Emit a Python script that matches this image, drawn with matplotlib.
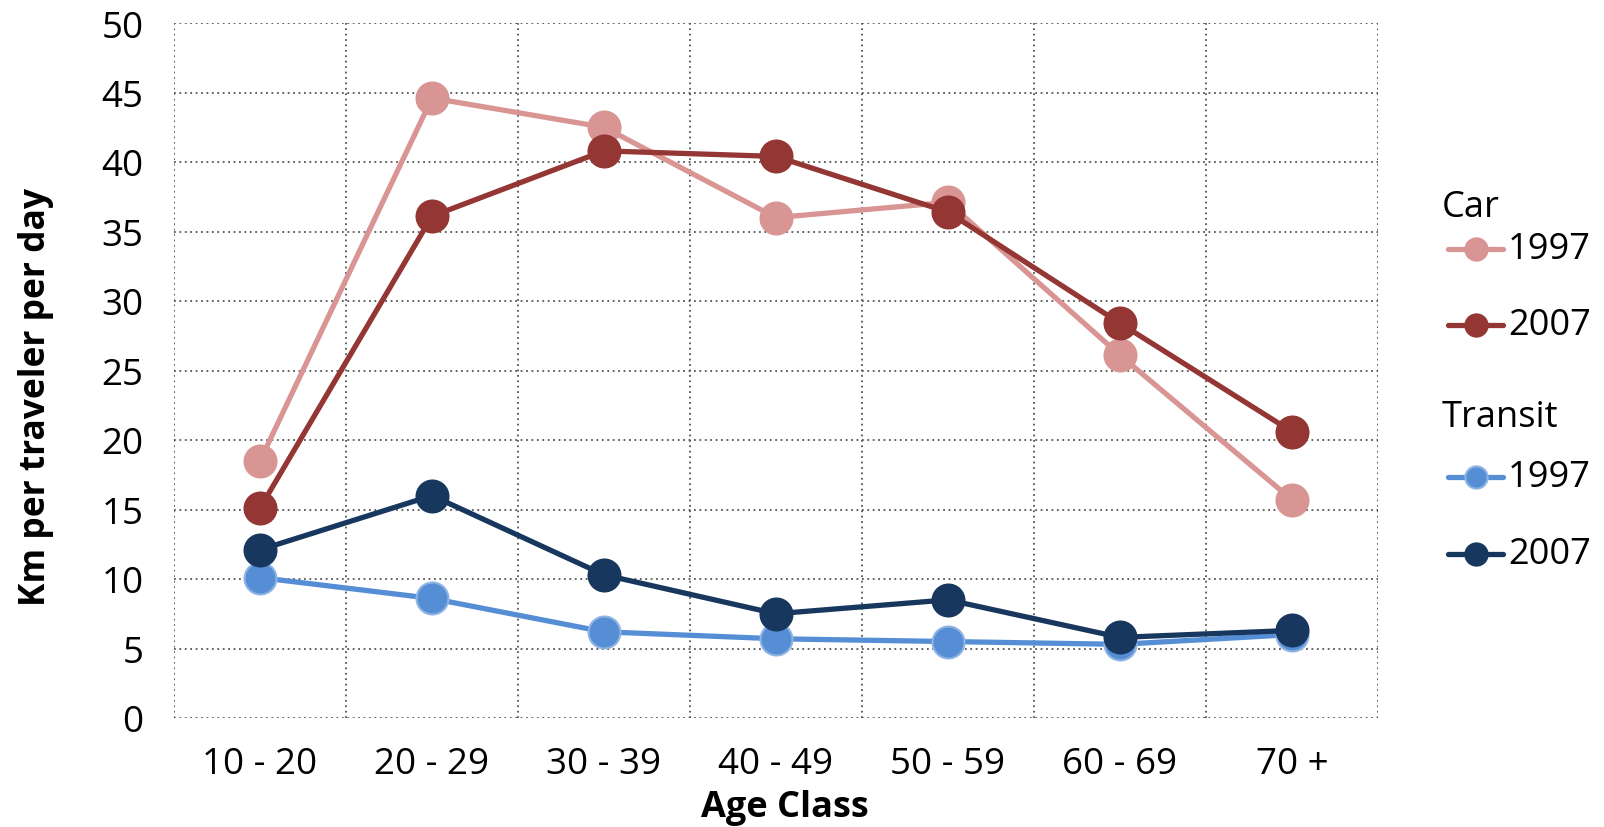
import matplotlib
matplotlib.use("Agg")
import matplotlib.pyplot as plt
from matplotlib.lines import Line2D

plt.rcParams['font.family'] = ['Open Sans', 'DejaVu Sans']

# km per traveler per day by age class
age_classes = ['10 - 20', '20 - 29', '30 - 39', '40 - 49', '50 - 59', '60 - 69', '70 +']
car_1997 = [18.5, 44.6, 42.5, 36.0, 37.1, 26.1, 15.7]
car_2007 = [15.1, 36.1, 40.8, 40.4, 36.4, 28.4, 20.6]
transit_1997 = [10.1, 8.6, 6.2, 5.7, 5.5, 5.3, 6.0]
transit_2007 = [12.1, 16.0, 10.3, 7.5, 8.5, 5.8, 6.3]
y_ticks = list(range(0, 51, 5))

series = [
    ('Car', '1997', car_1997, '#D99594', '#D99594'),
    ('Car', '2007', car_2007, '#943634', '#943634'),
    ('Transit', '1997', transit_1997, '#558ED5', '#8EB4E3'),
    ('Transit', '2007', transit_2007, '#17375E', '#17375E'),
]

fig = plt.figure(figsize=(16.04, 8.28), dpi=100)
ax = fig.add_axes([174 / 1604, 1 - 719 / 828, 1204 / 1604, 695 / 828])

x = list(range(len(age_classes)))
for group, year, vals, color, edge in series:
    ax.plot(x, vals, color=color, lw=3.8, marker='o', markersize=23,
            markerfacecolor=color, markeredgecolor=edge, markeredgewidth=1.5,
            zorder=3, solid_capstyle='round')

ax.set_xlim(-0.5, len(age_classes) - 0.5)
ax.set_ylim(0, 50)
ax.set_xticks(x)
ax.set_xticklabels(age_classes)
ax.set_xticks([i - 0.5 for i in range(len(age_classes) + 1)], minor=True)
ax.set_yticks(y_ticks)

grid_kw = dict(color='#555555', linestyle=(0, (1, 2)), linewidth=1.3)
ax.grid(True, axis='y', which='major', **grid_kw)
ax.grid(True, axis='x', which='minor', **grid_kw)
for s in ax.spines.values():
    s.set_visible(False)
ax.tick_params(which='both', length=0, labelsize=26.5)
ax.tick_params(axis='y', pad=22)
ax.tick_params(axis='x', pad=20)

ax.set_xlabel('Age Class', fontsize=26, fontweight='bold', labelpad=5)
ax.set_ylabel('Km per traveler per day', fontsize=25.5, fontweight='bold', labelpad=34)
ax.xaxis.label.set_x(0.507)
ax.yaxis.label.set_y(0.463)

# legend drawn by hand: group headers followed by year entries
def px(xp, yp):
    return xp / 1604, 1 - yp / 828

legend_rows = [('Car', 208, None), (None, 250, series[0]), (None, 326, series[1]),
               ('Transit', 418, None), (None, 478, series[2]), (None, 555, series[3])]
for header, yp, s in legend_rows:
    if header:
        fig.text(*px(1442, yp), header, fontsize=26, va='center', ha='left')
    else:
        group, year, vals, color, edge = s
        x0, y0 = px(1448, yp)
        x1, _ = px(1503, yp)
        xm, _ = px(1476, yp)
        fig.add_artist(Line2D([x0, x1], [y0, y0], color=color, lw=3.8,
                              solid_capstyle='round', transform=fig.transFigure))
        fig.add_artist(Line2D([xm], [y0], marker='o', markersize=16, color=color,
                              markeredgecolor=edge, markeredgewidth=1.5,
                              transform=fig.transFigure))
        fig.text(*px(1508, yp), year, fontsize=26, va='center', ha='left')

fig.savefig('out.png', dpi=100)
